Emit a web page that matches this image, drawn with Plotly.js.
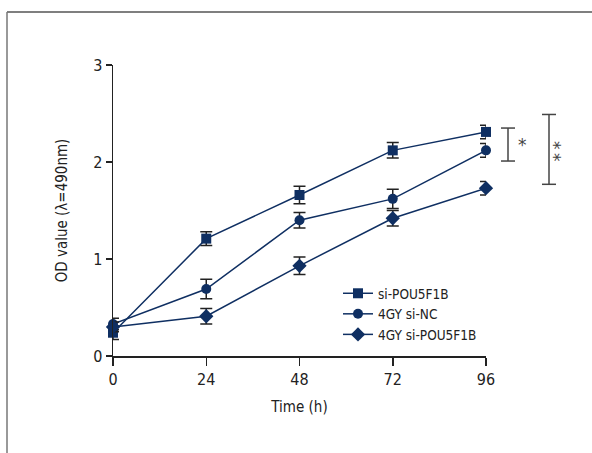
<!DOCTYPE html>
<html><head><meta charset="utf-8">
<script src="https://cdn.plot.ly/plotly-3.0.1.min.js"></script>
<style>html,body{margin:0;padding:0;background:#fff}#chart{width:592px;height:453px}</style>
</head><body><div id="chart"></div>
<script>
const times = [0, 24, 48, 72, 96];
const siPOU = [0.24, 1.21, 1.66, 2.12, 2.31];
const siPOUErr = [0.07, 0.07, 0.09, 0.08, 0.07];
const gyNC = [0.33, 0.69, 1.40, 1.62, 2.12];
const gyNCErr = [0.06, 0.10, 0.08, 0.10, 0.07];
const gyPOU = [0.30, 0.41, 0.93, 1.42, 1.73];
const gyPOUErr = [0.05, 0.08, 0.09, 0.08, 0.07];
const seriesNames = ["si-POU5F1B", "4GY si-NC", "4GY si-POU5F1B"];
const xTicks = [0, 24, 48, 72, 96];
const yTicks = [0, 1, 2, 3];
const sig1 = [2.01, 2.35];
const sig2 = [1.77, 2.49];

const navy = "#0f2f62";
const font = "'Liberation Sans Narrow', 'DejaVu Sans Condensed', 'Roboto', sans-serif";
function tr(y, err, name, symbol, size) {
  return {
    x: times, y: y, name: name, type: "scatter", mode: "lines+markers",
    cliponaxis: false,
    line: {color: navy, width: 1.5},
    marker: {symbol: symbol, size: size, color: navy},
    error_y: {type: "data", array: err, visible: true, color: "#222", thickness: 1.5, width: 6}
  };
}
const data = [
  tr(siPOU, siPOUErr, seriesNames[0], "square", 10),
  tr(gyNC, gyNCErr, seriesNames[1], "circle", 10),
  tr(gyPOU, gyPOUErr, seriesNames[2], "diamond", 11)
];
const W = 373, H = 291, L = 113, T = 65;
const px = v => (v - L) / W;
const py = v => (T + H - v) / H;
const gray = "#444";
function bracket(xp, yr) {
  const xc = px(xp), hw = 7 / W;
  return [
    {type: "line", xref: "paper", yref: "y", x0: xc, x1: xc, y0: yr[0], y1: yr[1], line: {color: gray, width: 1.5}},
    {type: "line", xref: "paper", yref: "y", x0: xc - hw, x1: xc + hw, y0: yr[0], y1: yr[0], line: {color: gray, width: 1.5}},
    {type: "line", xref: "paper", yref: "y", x0: xc - hw, x1: xc + hw, y0: yr[1], y1: yr[1], line: {color: gray, width: 1.5}}
  ];
}
const shapes = [
  {type: "line", xref: "paper", yref: "paper", x0: px(7), x1: px(592), y0: py(12), y1: py(12), line: {color: "#555", width: 1.5}},
  {type: "line", xref: "paper", yref: "paper", x0: px(7), x1: px(7), y0: py(12), y1: py(453), line: {color: "#777", width: 1.5}}
].concat(bracket(508, sig1), bracket(549, sig2));

const starFont = {family: "'DejaVu Sans', sans-serif", size: 17, color: gray};
const layout = {
  width: 592, height: 453,
  margin: {l: L, r: 592 - L - W, t: T, b: 453 - T - H},
  paper_bgcolor: "#fff", plot_bgcolor: "#fff",
  font: {family: font, size: 16, color: "#222"},
  showlegend: true,
  legend: {x: px(338), y: py(278), xanchor: "left", yanchor: "top", bgcolor: "rgba(0,0,0,0)",
           font: {family: font, size: 13.5, color: "#222"}, tracegroupgap: 0, itemwidth: 30},
  xaxis: {range: [0, 96], tickvals: xTicks, ticktext: xTicks.map(String), showgrid: false, zeroline: false,
          showline: true, linecolor: "#222", linewidth: 1.5, ticks: "outside", ticklen: 8, tickwidth: 1.5, tickcolor: "#222",
          tickfont: {family: font, size: 16},
          title: {text: "Time (h)", font: {family: font, size: 15}, standoff: 14}, fixedrange: true},
  yaxis: {range: [0, 3], tickvals: yTicks, ticktext: yTicks.map(String), showgrid: false, zeroline: false,
          showline: true, linecolor: "#222", linewidth: 1.5, ticks: "outside", ticklen: 6, tickwidth: 1.5, tickcolor: "#222",
          tickfont: {family: font, size: 16},
          title: {text: "OD value (λ=490nm)", font: {family: font, size: 15}, standoff: 22}, fixedrange: true},
  shapes: shapes,
  annotations: [
    {xref: "paper", yref: "paper", x: px(529), y: py(133), text: "*", showarrow: false, font: starFont},
    {xref: "paper", yref: "paper", x: px(566), y: py(139), text: "*\u2009*", textangle: 90, showarrow: false, font: starFont}
  ]
};
Plotly.newPlot("chart", data, layout, {displayModeBar: false, staticPlot: true});
</script></body></html>
